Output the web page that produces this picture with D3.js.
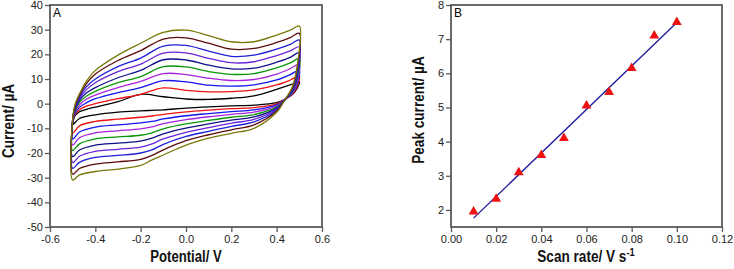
<!DOCTYPE html>
<html>
<head>
<meta charset="utf-8">
<script src="https://cdn.jsdelivr.net/npm/d3@7"></script>
<style>
  body{margin:0;background:#fff;}
  svg{display:block;font-family:"Liberation Sans",Arial,sans-serif;}
  .tick text{font-size:11px;fill:#222;}
  .ttl{font-size:16px;font-weight:bold;fill:#111;}
</style>
</head>
<body>
<svg id="chart" width="734" height="269"></svg>
<script>
// ---- panel A: cyclic voltammograms, 10 scan rates ----
const potUp=[-0.5,-0.49,-0.47,-0.44,-0.4,-0.3,-0.2,-0.1,0,0.1,0.2,0.3,0.4,0.46,0.5];
const potDown=[0.49,0.47,0.45,0.43,0.4,0.3,0.2,0.1,0,-0.1,-0.15,-0.2,-0.3,-0.4,-0.47,-0.5];

const curUp=[
  [-8,-5,-3.3,-2.3,-1.4,0.8,3.8,2.8,1.9,1.7,2.2,3.2,5.8,7.6,8.9],
  [-7.5,-4.5,-2.5,-1,0,2,3.8,6.4,5.4,4.8,4.9,5.6,7.6,9.6,11.2],
  [-7.5,-4,-1.5,0.3,2,4.5,6.5,9.3,8.8,7.5,7.1,7.6,9.6,11.8,13.5],
  [-7,-3.5,-0.5,1.8,3.5,6.5,9,12.2,11.8,10.3,9.4,9.8,12,14.2,16],
  [-7,-3,0.5,3,5,8.5,11,15,14.9,13,11.9,12.2,14.5,16.5,18.3],
  [-7,-2.5,1.3,4.3,6.5,10.5,13.5,17.8,17.7,15.6,14.1,14.4,16.8,18.8,20.6],
  [-6.5,-2,2,5.6,8.5,13,16,20.5,20.6,18.4,16.6,17,19.5,21.4,23],
  [-6.5,-1.5,2.6,6.8,10,15,18.5,23.3,23.6,21.3,19.2,19.7,22.1,24,25.8],
  [-6,-1,3.3,8,12,17.5,21.5,26.2,26.7,24.5,22.1,22.4,24.8,26.8,28.5],
  [-6,-0.5,4,9,13.5,19.7,24.5,28.9,29.8,27.6,25.1,25.1,27.8,29.8,31.5]
];
const curDown=[
  [6.2,3.8,2.5,1.5,0.4,-0.6,-0.9,-1.3,-1.8,-2.5,-2.7,-2.9,-3.4,-4.5,-6,-8.6],
  [7,4,2.6,1.4,-0.1,-1.6,-2,-2.6,-3.3,-4.3,-5,-5.5,-6.3,-7.2,-9,-12],
  [8,4.3,2.7,1.3,-0.5,-2.5,-3.2,-4,-4.9,-6.2,-7.2,-7.8,-8.6,-9.5,-11.5,-14.4],
  [9,4.6,2.8,1.2,-1,-3.4,-4.3,-5.3,-6.5,-8.1,-9.4,-10.2,-11,-11.8,-13.8,-16.8],
  [10,5,2.9,1.1,-1.4,-4.4,-5.5,-6.8,-8.2,-10.2,-11.8,-12.8,-13.5,-14.3,-16.3,-19],
  [11,5.4,3,1,-1.8,-5.4,-6.7,-8.2,-9.9,-12.2,-14,-15.2,-16,-16.8,-18.8,-21.5],
  [12,5.8,3.1,0.9,-2.2,-6.4,-7.9,-9.7,-11.6,-14.3,-16.3,-17.6,-18.5,-19.3,-21.3,-23.9],
  [13,6.2,3.2,0.8,-2.6,-7.4,-9.2,-11.2,-13.3,-16.5,-18.7,-20,-21,-21.8,-23.8,-26.2],
  [14,6.6,3.3,0.7,-3,-8.6,-10.6,-12.6,-15,-18.7,-21,-22.6,-23.6,-24.5,-26.3,-28.6],
  [15,7,3.5,0.6,-3.5,-10,-12,-14,-16.8,-20.8,-22.8,-25,-26.5,-27.5,-28.9,-31]
];
const cvColors=["#000000","#ee1111","#1414f0","#a824dc","#0a960a","#10108a","#6a24d8","#2020d8","#5c0c0c","#78780a"];

const aXTicks=[-0.6,-0.4,-0.2,0,0.2,0.4,0.6];
const aYTicks=[40,30,20,10,0,-10,-20,-30,-40,-50];

// ---- panel B: peak current vs scan rate ----
const rate=[0.01,0.02,0.03,0.04,0.05,0.06,0.07,0.08,0.09,0.10];
const peak=[1.95,2.32,3.1,3.6,4.1,5.05,5.45,6.15,7.1,7.5];
const fitRate=[0.01,0.10];
const fitPeak=[1.76,7.49];
const bXTicks=[0,0.02,0.04,0.06,0.08,0.10,0.12];
const bYTicks=[2,3,4,5,6,7,8];

const svg=d3.select("#chart");
const frameCol="#5a5a5a";
// plain hyphen for negatives, like the original
const loc=d3.formatLocale({decimal:".",thousands:",",grouping:[3],currency:["",""],minus:"-"});

function frame(g,x,y,xt,yt,xf,yf){
  const [x0,x1]=x.range(), [y0,y1]=y.range();
  g.append("g").attr("transform",`translate(0,${y0})`)
    .call(d3.axisBottom(x).tickValues(xt).tickFormat(xf).tickSize(5).tickSizeOuter(0).tickPadding(3))
    .call(a=>a.select(".domain").remove())
    .call(a=>a.selectAll("line").attr("stroke",frameCol).attr("stroke-width",1.3));
  g.append("g").attr("transform",`translate(${x0},0)`)
    .call(d3.axisLeft(y).tickValues(yt).tickFormat(yf).tickSize(5).tickSizeOuter(0).tickPadding(2))
    .call(a=>a.select(".domain").remove())
    .call(a=>a.selectAll("line").attr("stroke",frameCol).attr("stroke-width",1.3));
  g.selectAll(".tick text").attr("font-family",null);
  g.append("rect").attr("x",x0).attr("y",y1).attr("width",x1-x0).attr("height",y0-y1)
    .attr("fill","none").attr("stroke",frameCol).attr("stroke-width",1.8);
}

// panel A
const xa=d3.scaleLinear().domain([-0.6,0.6]).range([50,322]);
const ya=d3.scaleLinear().domain([-50,40]).range([227,5]);
const gA=svg.append("g");
const cvLine=d3.line().x(d=>xa(d[0])).y(d=>ya(d[1])).curve(d3.curveCatmullRom.alpha(0.5));
curUp.forEach((up,i)=>{
  const pts=potUp.map((e,k)=>[e,up[k]])
    .concat(potDown.map((e,k)=>[e,curDown[i][k]]));
  pts.push([potUp[0],up[0]]);
  gA.append("path").attr("d",cvLine(pts)).attr("fill","none")
    .attr("stroke",cvColors[i]).attr("stroke-width",1.3);
});
frame(gA,xa,ya,aXTicks,aYTicks,loc.format(".1f"),loc.format("d"));
gA.append("text").attr("x",53).attr("y",17).attr("font-size",12).text("A");
gA.append("text").attr("class","ttl").attr("transform","translate(186,262) scale(0.82,1)")
  .attr("text-anchor","middle").text("Potential/ V");
gA.append("text").attr("class","ttl").attr("transform","translate(14,121) rotate(-90) scale(0.85,1)")
  .attr("text-anchor","middle").text("Current/ µA");

// panel B
const xb=d3.scaleLinear().domain([0,0.12]).range([451,722]);
const yb=d3.scaleLinear().domain([1.5,8]).range([227,5]);
const gB=svg.append("g");
gB.append("path")
  .attr("d",d3.line().x(d=>xb(d[0])).y(d=>yb(d[1]))(fitRate.map((r,i)=>[r,fitPeak[i]])))
  .attr("fill","none").attr("stroke","#1c1c9c").attr("stroke-width",1.3);
gB.selectAll(".pt").data(rate).enter().append("path")
  .attr("d",d3.symbol(d3.symbolTriangle,42))
  .attr("transform",(d,i)=>`translate(${xb(d)},${yb(peak[i])})`)
  .attr("fill","#ee1111");
frame(gB,xb,yb,bXTicks,bYTicks,loc.format(".2f"),loc.format("d"));
gB.append("text").attr("x",454).attr("y",17).attr("font-size",12).text("B");
const bt=gB.append("text").attr("class","ttl").attr("transform","translate(586,262) scale(0.85,1)")
  .attr("text-anchor","middle");
bt.append("tspan").text("Scan rate/ V s");
bt.append("tspan").attr("dy",-6).attr("font-size",11).text("-1");
gB.append("text").attr("class","ttl").attr("transform","translate(424,110) rotate(-90) scale(0.85,1)")
  .attr("text-anchor","middle").text("Peak current/ µA");
</script>
</body>
</html>
